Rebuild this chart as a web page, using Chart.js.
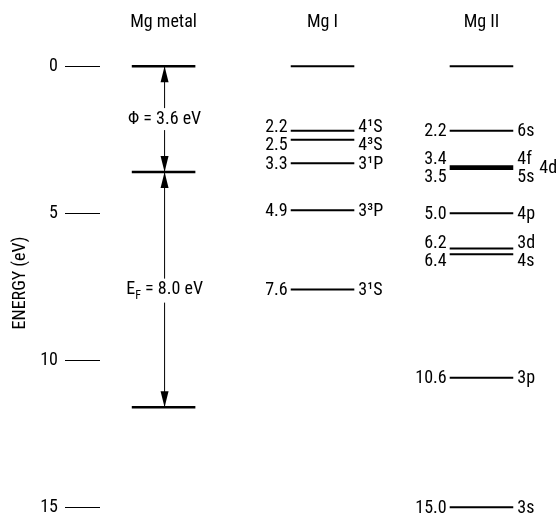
<!DOCTYPE html>
<html>
<head>
<meta charset="utf-8">
<script src="https://cdn.jsdelivr.net/npm/chart.js@4.4.1/dist/chart.umd.min.js"></script>
<style>
  html, body { margin: 0; padding: 0; background: #fff; }
  #wrap { width: 558px; height: 516px; }
</style>
</head>
<body>
<div id="wrap"><canvas id="c" width="558" height="516"></canvas></div>
<script>
// ---- data ----
const columns = ['Mg metal', 'Mg I', 'Mg II'];
const yTicks = [0, 5, 10, 15];

const metalLevels = [0, 3.6, 11.6];
const workFunction = 3.6;   // Φ
const fermiEnergy = 8.0;    // E_F

const mg1Levels = [0, 2.2, 2.5, 3.3, 4.9, 7.6];
const mg1Values = ['', '2.2', '2.5', '3.3', '4.9', '7.6'];
const mg1Names  = ['', '4¹S', '4³S', '3¹P', '3³P', '3¹S'];

const mg2Levels = [0, 2.2, 3.4, 3.45, 3.5, 5.0, 6.2, 6.4, 10.6, 15.0];
const mg2Values = ['', '2.2', '3.4', '', '3.5', '5.0', '6.2', '6.4', '10.6', '15.0'];
const mg2Names  = ['', '6s', '4f', '4d', '5s', '4p', '3d', '4s', '3p', '3s'];
const mg2Outer  = [false, false, false, true, false, false, false, false, false, false];

// ---- helpers ----
const FONT = '"Roboto Condensed", "DejaVu Sans Condensed", sans-serif';
const FS = 18;
const HALF = 0.2;

function levelData(col, levels) {
  const d = [];
  levels.forEach(e => {
    d.push({x: col - HALF, y: e});
    d.push({x: col + HALF, y: e});
    d.push({x: col, y: null});
  });
  return d;
}

function spread(ys, gap) {
  const out = ys.slice();
  for (let it = 0; it < 20; it++) {
    let moved = false;
    for (let i = 0; i < out.length - 1; i++) {
      const d = out[i + 1] - out[i];
      if (d < gap) {
        const s = (gap - d) / 2;
        out[i] -= s; out[i + 1] += s; moved = true;
      }
    }
    if (!moved) break;
  }
  return out;
}

function drawArrowHead(ctx, x, y, dir) {
  const L = 16, W = 4;
  ctx.beginPath();
  ctx.moveTo(x, y);
  ctx.lineTo(x - W, y - dir * L);
  ctx.lineTo(x + W, y - dir * L);
  ctx.closePath();
  ctx.fill();
}

const labelPlugin = {
  id: 'labels',
  afterDatasetsDraw(chart) {
    const {ctx, scales: {x, y}} = chart;
    ctx.save();
    ctx.fillStyle = '#000';
    ctx.strokeStyle = '#000';

    // column titles
    ctx.font = FS + 'px ' + FONT;
    ctx.textAlign = 'center';
    ctx.textBaseline = 'middle';
    columns.forEach((c, i) => ctx.fillText(c, x.getPixelForValue(i), 22));

    // metal arrows
    const ax = x.getPixelForValue(0) + 1;
    const y0 = y.getPixelForValue(metalLevels[0]);
    const y1 = y.getPixelForValue(metalLevels[1]);
    const y2 = y.getPixelForValue(metalLevels[2]);
    ctx.lineWidth = 1;
    ctx.beginPath();
    ctx.moveTo(ax, y0); ctx.lineTo(ax, y2);
    ctx.stroke();
    drawArrowHead(ctx, ax, y0, -1);
    drawArrowHead(ctx, ax, y1, 1);
    drawArrowHead(ctx, ax, y1, -1);
    drawArrowHead(ctx, ax, y2, 1);

    // Φ label
    ctx.font = FS + 'px ' + FONT;
    const phiText = 'Φ = ' + workFunction.toFixed(1) + ' eV';
    const phiY = y.getPixelForValue((metalLevels[0] + metalLevels[1]) / 2);
    const w = ctx.measureText(phiText).width;
    ctx.fillStyle = '#fff';
    ctx.fillRect(ax - w / 2 - 2, phiY - 11, w + 4, 22);
    ctx.fillStyle = '#000';
    ctx.fillText(phiText, ax, phiY);

    // E_F label
    const efY = y.getPixelForValue((metalLevels[1] + metalLevels[2]) / 2);
    const partE = 'E', partF = 'F', partR = ' = ' + fermiEnergy.toFixed(1) + ' eV';
    ctx.font = FS + 'px ' + FONT;
    const wE = ctx.measureText(partE).width;
    const wR = ctx.measureText(partR).width;
    ctx.font = '12px ' + FONT;
    const wF = ctx.measureText(partF).width;
    const tw = wE + wF + wR;
    ctx.fillStyle = '#fff';
    ctx.fillRect(ax - tw / 2 - 2, efY - 11, tw + 4, 24);
    ctx.fillStyle = '#000';
    ctx.textAlign = 'left';
    const sx = ax - tw / 2;
    ctx.font = FS + 'px ' + FONT;
    ctx.fillText(partE, sx, efY);
    ctx.font = '12px ' + FONT;
    ctx.fillText(partF, sx + wE, efY + 6);
    ctx.font = FS + 'px ' + FONT;
    ctx.fillText(partR, sx + wE + wF, efY);

    // atom level labels
    function colLabels(col, levels, values, names, outer) {
      const left = x.getPixelForValue(col - HALF);
      const right = x.getPixelForValue(col + HALF);
      const idxL = [], idxR = [];
      levels.forEach((e, i) => {
        if (values[i]) idxL.push(i);
        if (names[i] && !(outer && outer[i])) idxR.push(i);
      });
      const yl = spread(idxL.map(i => y.getPixelForValue(levels[i]) + 1), 18);
      const yr = spread(idxR.map(i => y.getPixelForValue(levels[i]) + 1), 18);
      ctx.font = FS + 'px ' + FONT;
      ctx.textAlign = 'right';
      idxL.forEach((i, k) => ctx.fillText(values[i], left - 3, yl[k]));
      ctx.textAlign = 'left';
      idxR.forEach((i, k) => ctx.fillText(names[i], right + 4, yr[k]));
      if (outer) {
        levels.forEach((e, i) => {
          if (outer[i]) ctx.fillText(names[i], right + 26, y.getPixelForValue(e) + 1);
        });
      }
    }
    colLabels(1, mg1Levels, mg1Values, mg1Names, null);
    colLabels(2, mg2Levels, mg2Values, mg2Names, mg2Outer);

    ctx.restore();
  }
};

new Chart(document.getElementById('c'), {
  type: 'line',
  data: {
    datasets: [
      {label: columns[0], data: levelData(0, metalLevels), borderColor: '#000', borderWidth: 2.5, pointRadius: 0, spanGaps: false},
      {label: columns[1], data: levelData(1, mg1Levels), borderColor: '#000', borderWidth: 2, pointRadius: 0, spanGaps: false},
      {label: columns[2], data: levelData(2, mg2Levels), borderColor: '#000', borderWidth: 2, pointRadius: 0, spanGaps: false}
    ]
  },
  options: {
    responsive: false,
    animation: false,
    events: [],
    layout: {padding: {top: 50, bottom: 0, left: 0, right: 5}},
    plugins: {legend: {display: false}, tooltip: {enabled: false}},
    scales: {
      x: {
        type: 'linear', display: false, min: -0.4, max: 2.45
      },
      y: {
        type: 'linear', reverse: true, min: -0.55, max: 15.3,
        afterBuildTicks(s) { s.ticks = yTicks.map(v => ({value: v})); },
        afterFit(s) { s.width = 100; s.paddingTop = 0; s.paddingBottom = 0; },
        border: {display: false},
        grid: {drawOnChartArea: false, drawTicks: true, tickLength: 35, color: '#000', lineWidth: 1},
        ticks: {color: '#000', padding: 7, font: {family: FONT, size: FS}},
        title: {display: true, text: 'ENERGY (eV)', color: '#000', font: {family: FONT, size: 18}, padding: {top: 10}}
      }
    }
  },
  plugins: [labelPlugin]
});
</script>
</body>
</html>
